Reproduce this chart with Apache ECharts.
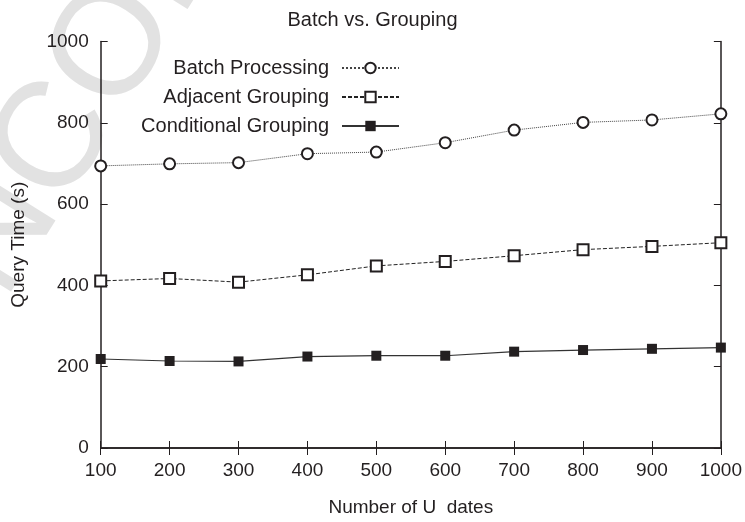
<!DOCTYPE html>
<html>
<head>
<meta charset="utf-8">
<script src="https://cdn.jsdelivr.net/npm/echarts@6/dist/echarts.min.js"></script>
<style>html,body{margin:0;padding:0;background:#fff}#c{width:745px;height:522px}</style>
</head>
<body>
<div id="c"></div>
<script>
const titleText = 'Batch vs. Grouping';
const xName = 'Number of U  dates';
const yName = 'Query Time (s)';
const seriesNames = ['Batch Processing', 'Adjacent Grouping', 'Conditional Grouping'];
const updates = [100, 200, 300, 400, 500, 600, 700, 800, 900, 1000];
const batch = [694, 699, 702, 724, 728, 751, 782, 801, 807, 822];
const adjacent = [411, 417, 408, 426, 448, 459, 473, 488, 496, 505];
const conditional = [219, 214, 213, 225, 227, 227, 237, 241, 244, 247];
const watermark = 'UNCORRECTED PROOF';

const FONT = '"Liberation Sans", Arial, Helvetica, sans-serif';
const INK = '#231f20';
const pairs = arr => updates.map((x, i) => [x, arr[i]]);
const plain = v => String(v);

const axisCommon = {
  axisLine: {show: true, lineStyle: {color: INK, width: 1.5}},
  axisTick: {show: true, inside: true, length: 7, lineStyle: {color: INK, width: 1}},
  splitLine: {show: false}
};

const chart = echarts.init(document.getElementById('c'), null, {renderer: 'canvas'});
chart.setOption({
  backgroundColor: '#fff',
  animation: false,
  textStyle: {fontFamily: FONT},
  graphic: [{
    type: 'text', z: -10, silent: true,
    x: -88, y: 372, rotation: 58 * Math.PI / 180,
    style: {text: watermark, fontSize: 150, fontFamily: FONT, fill: '#e2e2e2', align: 'left', verticalAlign: 'middle'}
  }],
  title: {
    text: titleText, left: 'center', top: 10, padding: 0,
    textStyle: {fontSize: 20, fontWeight: 'normal', color: INK, fontFamily: FONT}
  },
  grid: {left: 100.7, right: 22, top: 41.5, bottom: 70, containLabel: false},
  legend: {
    orient: 'vertical', right: 345, top: 58, align: 'right', padding: 0,
    itemWidth: 57, itemHeight: 13, itemGap: 9,
    textStyle: {fontSize: 20, color: INK, fontFamily: FONT, padding: [0, 8, 0, 0]},
    data: seriesNames
  },
  xAxis: [
    Object.assign({
      type: 'value', position: 'bottom', min: 100, max: 1000, interval: 100,
      name: xName, nameLocation: 'middle', nameGap: 50,
      nameTextStyle: {fontSize: 19, color: INK, fontFamily: FONT},
      axisLabel: {fontSize: 19, color: INK, margin: 13, fontFamily: FONT, formatter: plain}
    }, axisCommon),
    Object.assign({
      type: 'value', position: 'top', min: 100, max: 1000, interval: 100,
      axisLabel: {show: false}
    }, axisCommon)
  ],
  yAxis: [
    Object.assign({
      type: 'value', position: 'left', min: 0, max: 1000, interval: 200,
      name: yName, nameLocation: 'middle', nameGap: 72,
      nameTextStyle: {fontSize: 19, color: INK, fontFamily: FONT},
      axisLabel: {fontSize: 19, color: INK, margin: 12, fontFamily: FONT, formatter: plain}
    }, axisCommon),
    Object.assign({
      type: 'value', position: 'right', min: 0, max: 1000, interval: 200,
      axisLabel: {show: false}
    }, axisCommon)
  ],
  series: [
    {
      name: seriesNames[0], type: 'line', data: pairs(batch),
      symbol: 'emptyCircle', symbolSize: 11,
      lineStyle: {color: '#444', width: 1, type: 'dotted'},
      itemStyle: {color: INK, borderWidth: 1.2}
    },
    {
      name: seriesNames[1], type: 'line', data: pairs(adjacent),
      symbol: 'emptyRect', symbolSize: 11,
      lineStyle: {color: '#222', width: 1, type: [4, 2]},
      itemStyle: {color: INK, borderWidth: 1.2}
    },
    {
      name: seriesNames[2], type: 'line', data: pairs(conditional),
      symbol: 'rect', symbolSize: 10,
      lineStyle: {color: '#333', width: 1.2, type: 'solid'},
      itemStyle: {color: INK, borderWidth: 0}
    }
  ]
});
</script>
</body>
</html>
